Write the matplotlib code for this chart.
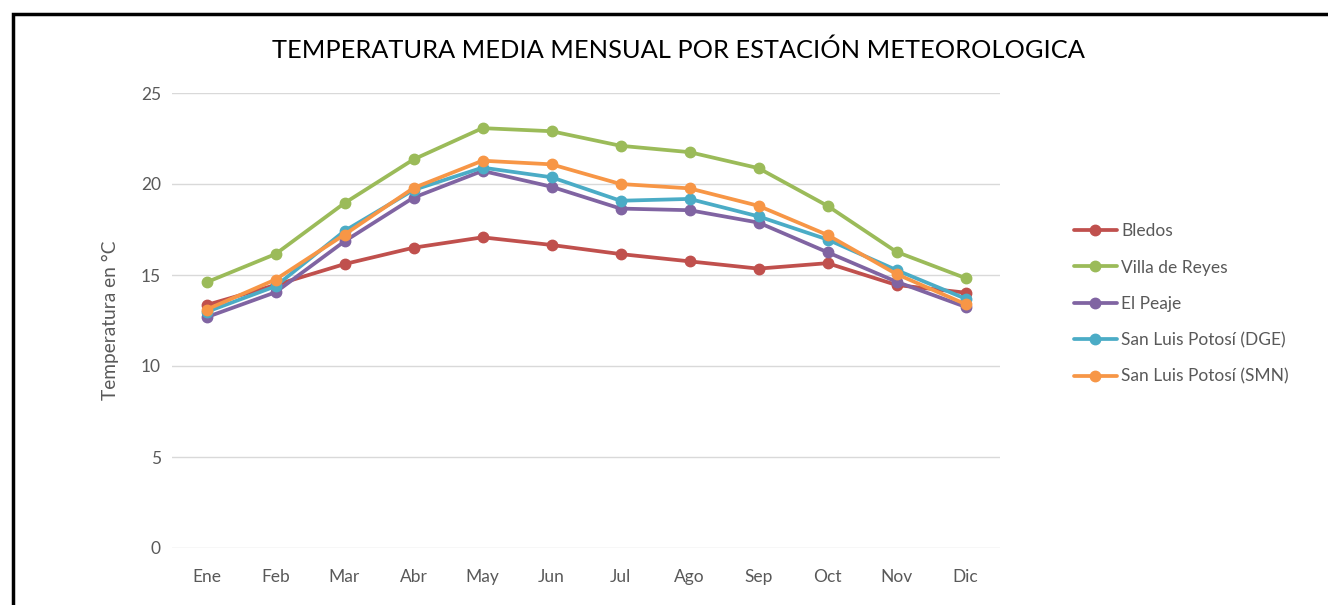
import matplotlib
matplotlib.use("Agg")
import matplotlib.pyplot as plt
from matplotlib.patches import Rectangle

# ---------------- DATA ----------------
meses = ['Ene', 'Feb', 'Mar', 'Abr', 'May', 'Jun', 'Jul', 'Ago', 'Sep', 'Oct', 'Nov', 'Dic']

bledos = [13.35, 14.45, 15.6, 16.5, 17.07, 16.65, 16.15, 15.75, 15.35, 15.65, 14.45, 14.03]
villa_reyes = [14.6, 16.15, 18.95, 21.35, 23.07, 22.9, 22.1, 21.75, 20.87, 18.8, 16.27, 14.83]
el_peaje = [12.68, 14.05, 16.85, 19.25, 20.72, 19.85, 18.65, 18.56, 17.88, 16.25, 14.63, 13.25]
slp_dge = [12.97, 14.38, 17.42, 19.67, 20.9, 20.37, 19.08, 19.18, 18.22, 16.95, 15.27, 13.7]
slp_smn = [13.1, 14.75, 17.22, 19.78, 21.28, 21.08, 20.0, 19.76, 18.8, 17.2, 15.05, 13.4]

series = [
    ('Bledos', bledos, '#C0504D'),
    ('Villa de Reyes', villa_reyes, '#9BBB59'),
    ('El Peaje', el_peaje, '#8064A2'),
    ('San Luis Potosí (DGE)', slp_dge, '#4BACC6'),
    ('San Luis Potosí (SMN)', slp_smn, '#F79646'),
]

plt.rcParams['font.family'] = ['Lato', 'DejaVu Sans']

W, H = 1328, 605
fig = plt.figure(figsize=(W / 100., H / 100.), dpi=100)
ax = fig.add_axes([172. / W, 1 - 548. / H, (1000. - 172.) / W, (548. - 93.) / H])

x = list(range(len(meses)))
for name, vals, col in series:
    ax.plot(x, vals, color=col, linewidth=2.7, marker='o', markersize=7.5,
            label=name, solid_capstyle='round')

ax.set_xlim(-0.5, len(meses) - 0.5)
ax.set_ylim(0, 25)
ax.set_yticks([0, 5, 10, 15, 20, 25])
ax.set_xticks(x)
ax.set_xticklabels(meses)
ax.tick_params(axis='both', length=0, labelsize=12.5, colors='#595959')
ax.tick_params(axis='y', pad=8)
ax.tick_params(axis='x', pad=15)
ax.grid(axis='y', color='#D9D9D9', linewidth=1)
ax.set_axisbelow(True)
for s in ax.spines.values():
    s.set_visible(False)

ax.set_ylabel('Temperatura en °C', fontsize=13.8, color='#595959', labelpad=16)

fig.text(678. / W, 1 - 50. / H, 'TEMPERATURA MEDIA MENSUAL POR ESTACIÓN METEOROLOGICA',
         ha='center', va='center', fontsize=18.3, color='#000000')

ax.legend(loc='center left', bbox_to_anchor=(1058. / W, 1 - 304. / H),
          bbox_transform=fig.transFigure, frameon=False, fontsize=12.5,
          labelcolor='#595959', handlelength=2.5, handletextpad=0.25,
          labelspacing=1.17)

# outer frame
fig.add_artist(Rectangle((13. / W, -0.05), 1.2, 1.05 - 14. / H, fill=False,
                         edgecolor='black', linewidth=2.5, transform=fig.transFigure))

fig.savefig('out.png', dpi=100)
